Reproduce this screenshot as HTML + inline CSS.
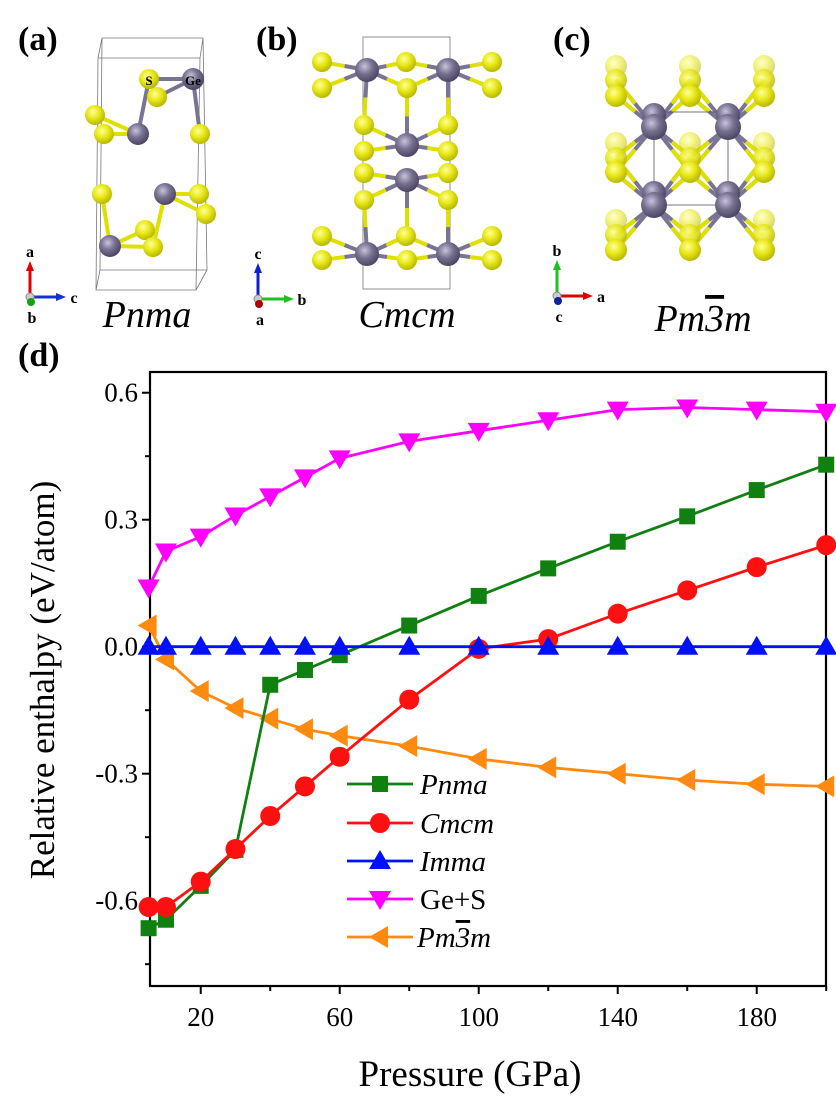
<!DOCTYPE html>
<html><head><meta charset="utf-8"><style>
html,body{margin:0;padding:0;background:#fff;}
svg{display:block;font-family:"Liberation Serif",serif;}
text{font-family:"Liberation Serif",serif;}
</style></head><body>
<svg id="s" width="836" height="1098" viewBox="0 0 836 1098" xmlns="http://www.w3.org/2000/svg">
<defs>
<radialGradient id="gy" cx="40%" cy="35%" r="65%"><stop offset="0" stop-color="#ffff9a"/><stop offset="0.5" stop-color="#e8e81a"/><stop offset="1" stop-color="#b8b800"/></radialGradient>
<radialGradient id="gg" cx="40%" cy="35%" r="65%"><stop offset="0" stop-color="#c8c4dc"/><stop offset="0.5" stop-color="#77708f"/><stop offset="1" stop-color="#4c4664"/></radialGradient>
</defs>
<g font-weight="bold" font-size="34">
<text x="18" y="50">(a)</text><text x="256" y="50">(b)</text><text x="553" y="50">(c)</text><text x="18" y="366">(d)</text>
</g>
<g font-style="italic" font-size="38" text-anchor="middle">
<text x="147" y="327" font-family="Liberation Serif">Pnma</text><text x="407" y="327" font-family="Liberation Serif">Cmcm</text><text x="703" y="331" font-family="Liberation Serif">Pm<tspan text-decoration="overline">3</tspan>m</text>
</g>
<g id="struct"></g>
<g id="plot"></g>
</svg>
<script>
const NS="http://www.w3.org/2000/svg";
function el(p,t,a,txt){const e=document.createElementNS(NS,t);for(const k in a)e.setAttribute(k,a[k]);if(txt!==undefined)e.textContent=txt;p.appendChild(e);return e;}
const S=document.getElementById('struct');
function bond(x1,y1,x2,y2){el(S,'line',{x1,y1,x2,y2,stroke:'#e0e000','stroke-width':4});}
function gbond(x1,y1,x2,y2){el(S,'line',{x1,y1,x2,y2,stroke:'#7a7494','stroke-width':4});}
function sa(x,y,r=10,op=1){el(S,'circle',{cx:x,cy:y,r,fill:'url(#gy)',opacity:op});}
function ge(x,y,r=11){el(S,'circle',{cx:x,cy:y,r,fill:'url(#gg)'});}
// (a) box
el(S,'path',{d:'M102 38 L203 38 L200 58 L98 58 Z M98 58 L96 290 L196 290 L200 58 M203 38 L207 270 L196 290 M102 38 L100 270 L207 270 M100 270 L96 290',fill:'none',stroke:'#777','stroke-width':0.8});
gbond(149,79,193,79);gbond(157,97,193,79);gbond(193,79,200,134);gbond(138,134,149,79);
bond(95,115,138,134);bond(104,134,138,134);bond(165,194,199,194);bond(165,194,206,214);bond(165,194,153,247);
bond(102,194,110,246);bond(110,246,145,230);bond(110,246,153,247);
sa(95,115);sa(104,134);sa(200,134);sa(157,97);sa(149,79);ge(193,79);ge(138,134);
sa(102,194);ge(165,194);sa(199,194);sa(206,214);sa(145,230);ge(110,246);sa(153,247);
el(S,'text',{x:149,y:85,'font-size':13,'font-weight':'bold','text-anchor':'middle'},'S');
el(S,'text',{x:193,y:85,'font-size':13,'font-weight':'bold','text-anchor':'middle'},'Ge');
function triad(ox,oy,upc,rc,dc,ul,rl,dl){
 el(S,'line',{x1:ox,y1:oy,x2:ox,y2:oy-28,stroke:upc,'stroke-width':3});el(S,'path',{d:`M${ox-4} ${oy-26} L${ox} ${oy-36} L${ox+4} ${oy-26}Z`,fill:upc});
 el(S,'line',{x1:ox,y1:oy,x2:ox+28,y2:oy,stroke:rc,'stroke-width':3});el(S,'path',{d:`M${ox+26} ${oy-4} L${ox+36} ${oy} L${ox+26} ${oy+4}Z`,fill:rc});
 el(S,'circle',{cx:ox,cy:oy,r:4,fill:'#ccc',stroke:'#888'});el(S,'circle',{cx:ox+1,cy:oy+5,r:4,fill:dc});
 el(S,'text',{x:ox,y:oy-40,'font-size':16,'font-weight':'bold','text-anchor':'middle'},ul);
 el(S,'text',{x:ox+44,y:oy+6,'font-size':16,'font-weight':'bold','text-anchor':'middle'},rl);
 el(S,'text',{x:ox+2,y:oy+26,'font-size':16,'font-weight':'bold','text-anchor':'middle'},dl);}
triad(30,297,'#e00000','#1530d0','#10a010','a','c','b');
triad(258,299,'#1020d0','#20c020','#b00000','c','b','a');
triad(557,296,'#20c020','#e00000','#1020a0','b','a','c');
// (b)
el(S,'rect',{x:363,y:37,width:87,height:252,fill:'none',stroke:'#777','stroke-width':0.8});
const gb=[[367,70],[448,70],[407,145],[407,180],[367,254],[448,254]];
const sb=[[322,62],[322,88],[406,62],[407,88],[492,62],[492,88],[364,125],[448,125],[364,151],[448,151],[364,173],[448,173],[364,200],[448,200],[322,236],[406,236],[492,236],[322,260],[407,260],[492,260]];
[[367,70,322,62],[367,70,322,88],[367,70,406,62],[367,70,407,88],[448,70,406,62],[448,70,407,88],[448,70,492,62],[448,70,492,88],[367,70,364,125],[448,70,448,125],[407,145,407,88],[407,145,364,125],[407,145,448,125],[407,145,364,151],[407,145,448,151],[407,180,364,173],[407,180,448,173],[407,180,364,200],[407,180,448,200],[407,180,407,236],[367,254,364,200],[448,254,448,200],[367,254,322,236],[367,254,322,260],[367,254,406,236],[367,254,407,260],[448,254,406,236],[448,254,407,260],[448,254,492,236],[448,254,492,260]].forEach(b=>{const mx=(b[0]+b[2])/2,my=(b[1]+b[3])/2;gbond(b[0],b[1],mx,my);bond(mx,my,b[2],b[3]);});
sb.forEach(p=>sa(p[0],p[1]));gb.forEach(p=>ge(p[0],p[1],12));
// (c)
const xs=[616,690,764],rows=[[66,80,96],[143,158,172],[220,235,250]];
const gc=[[654,127],[728,127],[654,205],[728,205]];
gc.forEach(g=>{[[-38,-31],[36,-31],[-38,45],[36,45],[-38,-47],[36,-47],[-38,30],[36,30]].forEach(d=>gbond(g[0],g[1],g[0]+d[0],g[1]+d[1]));});
gc.forEach(g=>{[[-38,-31],[36,-31],[-38,45],[36,45],[-38,-47],[36,-47],[-38,30],[36,30]].forEach(d=>bond(g[0]+d[0]*0.5,g[1]+d[1]*0.5,g[0]+d[0],g[1]+d[1]));});
el(S,'rect',{x:654,y:112,width:74,height:93,fill:'none',stroke:'#555','stroke-width':0.8});
rows.forEach(r=>{xs.forEach(x=>{sa(x,r[0],11,0.55);});xs.forEach(x=>{sa(x,r[1],11,0.85);});});
gc.forEach(g=>ge(g[0],g[1]-12,12));
rows.forEach(r=>{xs.forEach(x=>sa(x,r[2],11,1));});
gc.forEach(g=>ge(g[0],g[1],13));
// plot
const P=document.getElementById('plot');
const X=p=>148.6+(p-5)*3.475, Y=v=>646.7-v*423.3;
const L=150,R=826,T=372,B=986;
el(P,'rect',{x:L,y:T,width:R-L,height:B-T,fill:'none',stroke:'#000','stroke-width':2.2});
for(const v of [0.6,0.3,0,-0.3,-0.6]){el(P,'line',{x1:L-8,x2:L,y1:Y(v),y2:Y(v),stroke:'#000','stroke-width':2});el(P,'text',{x:L-12,y:Y(v)+9,'font-size':27,'text-anchor':'end'},v==0?'0.0':v.toFixed(1));}
for(const v of [0.45,0.15,-0.15,-0.45,-0.75])el(P,'line',{x1:L-5,x2:L,y1:Y(v),y2:Y(v),stroke:'#000','stroke-width':2});
for(let p=20;p<=200;p+=20){const maj=(p-20)%40==0;el(P,'line',{x1:X(p),x2:X(p),y1:B,y2:B+(maj?8:5),stroke:'#000','stroke-width':2});if(maj&&p<200)el(P,'text',{x:X(p),y:B+40,'font-size':27,'text-anchor':'middle'},p);}
el(P,'text',{x:470,y:1086,'font-size':37,'text-anchor':'middle'},'Pressure (GPa)');
el(P,'text',{x:0,y:0,'font-size':35,'text-anchor':'middle',transform:'translate(54,680) rotate(-90)'},'Relative enthalpy (eV/atom)');
const ps=[5,10,20,30,40,50,60,80,100,120,140,160,180,200];
const data={
pnma:[-0.665,-0.645,-0.565,-0.48,-0.09,-0.055,-0.02,0.05,0.12,0.185,0.248,0.308,0.37,0.43],
cmcm:[-0.615,-0.615,-0.555,-0.478,-0.40,-0.33,-0.26,-0.125,-0.005,0.018,0.078,0.133,0.188,0.24],
imma:ps.map(()=>0),
ges:[0.14,0.225,0.26,0.31,0.355,0.40,0.445,0.485,0.51,0.535,0.56,0.565,0.56,0.555],
pm:[0.05,-0.03,-0.105,-0.145,-0.17,-0.195,-0.21,-0.235,-0.265,-0.285,-0.30,-0.315,-0.325,-0.33]};
function marker(g,type,x,y,c){
 if(type=='sq')el(g,'rect',{x:x-8,y:y-8,width:16,height:16,fill:c});
 else if(type=='ci')el(g,'circle',{cx:x,cy:y,r:10,fill:c});
 else if(type=='up')el(g,'path',{d:`M${x} ${y-11} L${x+11} ${y+8} L${x-11} ${y+8}Z`,fill:c});
 else if(type=='dn')el(g,'path',{d:`M${x} ${y+11} L${x+11} ${y-8} L${x-11} ${y-8}Z`,fill:c});
 else el(g,'path',{d:`M${x-11} ${y} L${x+8} ${y-11} L${x+8} ${y+11}Z`,fill:c});}
const ser=[['pm','#ff8a10','lt'],['ges','#ff00ff','dn'],['pnma','#108010','sq'],['cmcm','#ff1010','ci'],['imma','#0010ff','up']];
const G=el(P,'g',{});
ser.forEach(([k,c,m])=>{el(G,'polyline',{points:ps.map((p,i)=>X(p)+','+Y(data[k][i])).join(' '),fill:'none',stroke:c,'stroke-width':2.8});ps.forEach((p,i)=>marker(G,m,X(p),Y(data[k][i]),c));});
const leg=[['Pnma','#108010','sq',784,true],['Cmcm','#ff1010','ci',823,true],['Imma','#0010ff','up',861,true],['Ge+S','#ff00ff','dn',899,false],['Pm3m','#ff8a10','lt',937,true]];
leg.forEach(([t,c,m,y,it])=>{el(P,'line',{x1:347,x2:413,y1:y,y2:y,stroke:c,'stroke-width':2.8});marker(P,m,380,y,c);
 if(t=='Pm3m'){const e=el(P,'text',{x:417,y:y+10,'font-size':29,'font-style':'italic'});el(e,'tspan',{},'Pm');el(e,'tspan',{'text-decoration':'overline'},'3');el(e,'tspan',{},'m');}
 else el(P,'text',{x:420,y:y+10,'font-size':29,'font-style':it?'italic':'normal'},t);});
</script>
</body></html>
